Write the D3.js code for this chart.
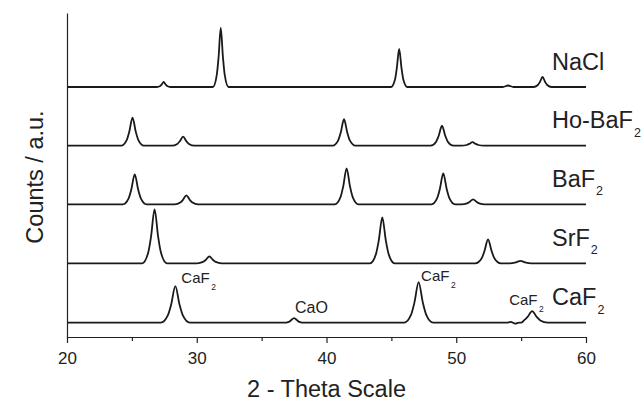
<!DOCTYPE html>
<html>
<head>
<meta charset="utf-8">
<script src="https://cdn.jsdelivr.net/npm/d3@7"></script>
<style>
  body { margin: 0; background: #fff; }
  text { font-family: "Liberation Sans", Arial, sans-serif; fill: #222; }
</style>
</head>
<body>
<svg id="chart" width="643" height="401"></svg>
<script>
// series labels (main part + subscript) and their vertical offsets in counts
const labelMain = ['NaCl', 'Ho-BaF', 'BaF', 'SrF', 'CaF']
const labelSub = ['', '2', '2', '2', '2']
const offsets = [2500, 1913, 1327, 737, 143]

const xTicks = [20, 30, 40, 50, 60]
const xMinor = [25, 35, 45, 55]

// traces: [2-theta, counts above the trace's own baseline]
const nacl = [[20, 0],
  [26.93, 0], [27.18, 10], [27.3, 25], [27.45, 50], [27.6, 25], [27.72, 10], [27.97, 0],
  [31.25, 0], [31.54, 118], [31.68, 295], [31.85, 590], [32.02, 295], [32.16, 118], [32.45, 0],
  [44.97, 0], [45.28, 76], [45.42, 190], [45.6, 380], [45.78, 190], [45.92, 76], [46.23, 0],
  [53.6, 0], [54.0, 15], [54.4, 0],
  [55.95, 0], [56.29, 20], [56.45, 50], [56.65, 100], [56.85, 50], [57.01, 20], [57.35, 0],
  [60, 0]]

const hoBaf2 = [[20, 0],
  [24.18, 0], [24.6, 56], [24.8, 140], [25.05, 280], [25.3, 140], [25.5, 56], [25.93, 0],
  [28.08, 0], [28.5, 18], [28.7, 45], [28.95, 90], [29.2, 45], [29.4, 18], [29.83, 0],
  [40.48, 0], [40.9, 53], [41.1, 133], [41.35, 265], [41.6, 133], [41.8, 53], [42.23, 0],
  [48.03, 0], [48.45, 40], [48.65, 100], [48.9, 200], [49.15, 100], [49.35, 40], [49.78, 0],
  [50.38, 0], [50.8, 7], [51.0, 18], [51.25, 35], [51.5, 18], [51.7, 7], [52.13, 0],
  [60, 0]]

const baf2 = [[20, 0],
  [24.31, 0], [24.75, 60], [24.96, 150], [25.22, 300], [25.48, 150], [25.69, 60], [26.13, 0],
  [28.29, 0], [28.73, 18], [28.94, 45], [29.2, 90], [29.46, 45], [29.67, 18], [30.11, 0],
  [40.64, 0], [41.08, 72], [41.29, 180], [41.55, 360], [41.81, 180], [42.02, 72], [42.46, 0],
  [48.09, 0], [48.53, 62], [48.74, 155], [49.0, 310], [49.26, 155], [49.47, 62], [49.91, 0],
  [50.39, 0], [50.83, 10], [51.04, 25], [51.3, 50], [51.56, 25], [51.77, 10], [52.21, 0],
  [60, 0]]

const srf2 = [[20, 0],
  [25.8, 0], [26.26, 108], [26.48, 270], [26.75, 540], [27.02, 270], [27.24, 108], [27.7, 0],
  [30.02, 0], [30.48, 14], [30.7, 35], [30.97, 70], [31.24, 35], [31.46, 14], [31.92, 0],
  [43.35, 0], [43.81, 92], [44.03, 230], [44.3, 460], [44.57, 230], [44.79, 92], [45.25, 0],
  [51.47, 0], [51.95, 48], [52.17, 120], [52.45, 240], [52.73, 120], [52.95, 48], [53.43, 0],
  [54.1, 0], [54.6, 10], [54.95, 25], [55.3, 10], [55.8, 0],
  [60, 0]]

const caf2 = [[20, 0],
  [27.23, 0], [27.77, 73], [28.03, 183], [28.35, 365], [28.67, 183], [28.93, 73], [29.47, 0],
  [36.7, 0], [37.1, 9], [37.25, 23], [37.5, 45], [37.75, 23], [37.9, 9], [38.3, 0],
  [45.98, 0], [46.52, 81], [46.78, 203], [47.1, 405], [47.42, 203], [47.68, 81], [48.22, 0],
  [53.9, 0], [54.2, 8], [54.55, -10], [54.85, 0],
  [55.0, 0], [55.22, 23], [55.5, 58], [55.85, 115], [56.2, 58], [56.48, 23], [57.05, 0],
  [60, 0]]

const traces = [nacl, hoBaf2, baf2, srf2, caf2]

// phase annotations on the CaF2 trace
const annMain = ['CaF', 'CaO', 'CaF', 'CaF']
const annSub = ['2', '', '2', '2']
const annAt = [28.35, 37.5, 47.1, 55.85]
const annCounts = [365, 45, 405, 115]


const width = 643
const height = 401
const margin = { top: 13, right: 57, bottom: 64, left: 67 }

const svg = d3.select('#chart')

// scales
const x = d3.scaleLinear().domain([20, 60]).range([margin.left, width - margin.right])
const y = d3.scaleLinear().domain([0, 3240]).range([height - margin.bottom, margin.top])

// traces
const line = d3.line()
  .x(d => x(d[0]))
  .y(d => y(d[1]))
  .curve(d3.curveMonotoneX)

svg.selectAll('path.trace')
  .data(traces)
  .join('path')
  .attr('class', 'trace')
  .attr('d', (d, i) => line(d.map(p => [p[0], p[1] + offsets[i]])))
  .attr('fill', 'none')
  .attr('stroke', '#1a1a1a')
  .attr('stroke-width', 1.8)
  .attr('stroke-linejoin', 'round')

// bottom axis, major + minor ticks pointing out
const xAxis = svg.append('g')
  .attr('transform', `translate(0,${height - margin.bottom})`)
  .call(d3.axisBottom(x).tickValues(xTicks).tickSize(6).tickSizeOuter(0).tickPadding(9))
xAxis.selectAll('text').attr('font-size', 17).style('font-family', '"Liberation Sans", Arial, sans-serif').attr('fill', '#222')

svg.append('g')
  .attr('transform', `translate(0,${height - margin.bottom})`)
  .call(d3.axisBottom(x).tickValues(xMinor).tickSize(4).tickFormat(''))
  .call(g => g.select('.domain').remove())

// left axis, no ticks
svg.append('g')
  .attr('transform', `translate(${margin.left},0)`)
  .call(d3.axisLeft(y).tickValues([]).tickSizeOuter(0))

svg.selectAll('.domain, .tick line').attr('stroke', '#222').attr('stroke-width', 1.2)

// axis titles
svg.append('text')
  .attr('x', (x(20) + x(60)) / 2)
  .attr('y', 397)
  .attr('text-anchor', 'middle')
  .attr('font-size', 23.5)
  .text('2 - Theta Scale')

svg.append('text')
  .attr('transform', `translate(43,${(y(0) + y(3240)) / 2 + 2}) rotate(-90)`)
  .attr('text-anchor', 'middle')
  .attr('font-size', 23.5)
  .text('Counts / a.u.')

// series labels
const labels = svg.selectAll('text.series')
  .data(labelMain)
  .join('text')
  .attr('class', 'series')
  .attr('x', 552)
  .attr('y', (d, i) => y(offsets[i]) - 17.5)
  .attr('font-size', 23.5)
labels.append('tspan').text(d => d)
labels.append('tspan')
  .attr('font-size', 12.5)
  .attr('dy', 8.4)
  .attr('dx', 1)
  .text((d, i) => labelSub[i])

// peak annotations
const annDx = [6, 1, 2.5, -23]
const annDy = [-3, -5, -1, -6]
const ann = svg.selectAll('text.ann')
  .data(annMain)
  .join('text')
  .attr('class', 'ann')
  .attr('x', (d, i) => x(annAt[i]) + annDx[i])
  .attr('y', (d, i) => y(annCounts[i] + offsets[4]) + annDy[i])
  .attr('font-size', (d, i) => annSub[i] ? 15 : 16)
ann.append('tspan').text(d => d)
ann.append('tspan')
  .attr('font-size', 8.5)
  .attr('dy', 7)
  .attr('dx', 1.5)
  .text((d, i) => annSub[i])
</script>
</body>
</html>
